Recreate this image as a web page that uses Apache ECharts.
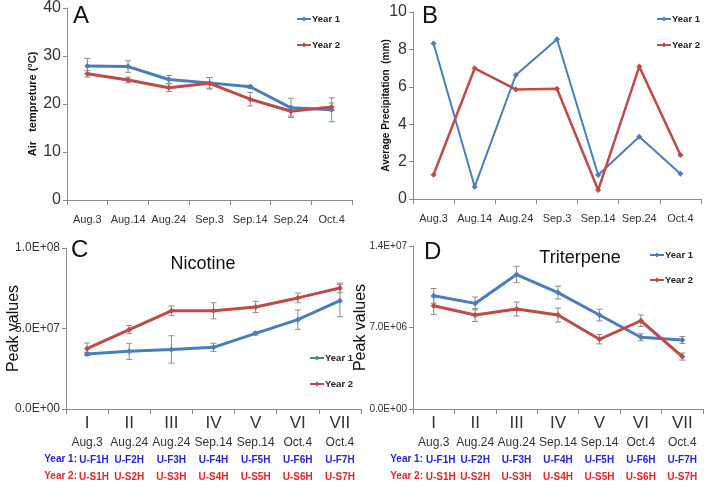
<!DOCTYPE html>
<html>
<head>
<meta charset="utf-8">
<script src="https://cdn.jsdelivr.net/npm/echarts@6/dist/echarts.min.js"></script>
<style>
  html, body { margin: 0; padding: 0; background: #fff; }
  #main { width: 708px; height: 482px; }
</style>
</head>
<body>
<div id="main"></div>
<script>
// ---- data ----
var dates = ['Aug.3', 'Aug.14', 'Aug.24', 'Sep.3', 'Sep.14', 'Sep.24', 'Oct.4'];
var stages = ['I', 'II', 'III', 'IV', 'V', 'VI', 'VII'];
var stageDates = ['Aug.3', 'Aug.24', 'Aug.24', 'Sep.14', 'Sep.14', 'Oct.4', 'Oct.4'];
var codesY1 = ['U-F1H', 'U-F2H', 'U-F3H', 'U-F4H', 'U-F5H', 'U-F6H', 'U-F7H'];
var codesY2 = ['U-S1H', 'U-S2H', 'U-S3H', 'U-S4H', 'U-S5H', 'U-S6H', 'U-S7H'];

var tempY1 = [27.9, 27.8, 25.1, 24.4, 23.6, 19.2, 18.8];
var tempY2 = [26.3, 25.0, 23.4, 24.3, 21.0, 18.5, 19.4];
var tempErrY1 = [1.6, 1.2, 0.85, 1.1, 0.3, 2.0, 2.5];
var tempErrY2 = [0.7, 0.6, 0.8, 1.2, 1.4, 1.0, 0.8];

var precY1 = [8.32, 0.66, 6.63, 8.54, 1.28, 3.33, 1.35];
var precY2 = [1.3, 6.99, 5.86, 5.9, 0.48, 7.08, 2.35];

var nicY1 = [3.42e7, 3.58e7, 3.7e7, 3.83e7, 4.7e7, 5.55e7, 6.73e7];
var nicY2 = [3.75e7, 4.93e7, 6.1e7, 6.1e7, 6.34e7, 6.9e7, 7.52e7];
var nicErrY1 = [0.1e7, 0.5e7, 0.85e7, 0.25e7, 0.1e7, 0.6e7, 1.0e7];
var nicErrY2 = [0.35e7, 0.25e7, 0.3e7, 0.5e7, 0.35e7, 0.3e7, 0.3e7];

var triY1 = [9.72e6, 9.07e6, 11.55e6, 10.0e6, 8.07e6, 6.16e6, 5.93e6];
var triY2 = [8.87e6, 8.07e6, 8.58e6, 8.07e6, 5.99e6, 7.58e6, 4.5e6];
var triErrY1 = [0.63e6, 0.55e6, 0.7e6, 0.55e6, 0.5e6, 0.3e6, 0.3e6];
var triErrY2 = [0.75e6, 0.55e6, 0.6e6, 0.6e6, 0.4e6, 0.5e6, 0.3e6];

var blue = '#4a7ebb', red = '#be4b48';
var font = "'Liberation Sans Narrow','Liberation Sans',sans-serif";
var axisGray = '#8a8a8a';

function sci(v) {
	if (v === 0) return '0.0E+00';
	var s = v.toExponential(1).split('e');
	var e = parseInt(s[1], 10);
	return s[0] + 'E' + (e < 0 ? '-' : '+') + (Math.abs(e) < 10 ? '0' : '') + Math.abs(e);
}

function errData(vals, errs) {
	return vals.map(function (v, i) { return [i, v - errs[i], v + errs[i]]; });
}

function errRender(params, api) {
	var i = api.value(0);
	var lo = api.coord([i, api.value(1)]);
	var hi = api.coord([i, api.value(2)]);
	var w = 3;
	var st = { stroke: '#8c8c8c', lineWidth: 1 };
	return {
		type: 'group', children: [
			{ type: 'line', shape: { x1: lo[0], y1: lo[1], x2: hi[0], y2: hi[1] }, style: st },
			{ type: 'line', shape: { x1: hi[0] - w, y1: hi[1], x2: hi[0] + w, y2: hi[1] }, style: st },
			{ type: 'line', shape: { x1: lo[0] - w, y1: lo[1], x2: lo[0] + w, y2: lo[1] }, style: st }
		]
	};
}

function xAxisSimple(idx, data) {
	return {
		type: 'category', gridIndex: idx, data: data, boundaryGap: true,
		axisLine: { lineStyle: { color: axisGray, width: 1 } },
		axisTick: { show: true, length: 5, lineStyle: { color: axisGray } },
		axisLabel: { color: '#333', fontSize: 11, fontFamily: font, margin: 14, interval: 0 }
	};
}

function xAxisStage(idx) {
	return {
		type: 'category', gridIndex: idx, data: stages, boundaryGap: true,
		axisLine: { lineStyle: { color: axisGray, width: 1 } },
		axisTick: { show: true, length: 5, lineStyle: { color: axisGray } },
		axisLabel: {
			interval: 0, margin: 4,
			formatter: function (v, i) {
				var f = i === 0 ? 'f0' : 'f';
				var s = i === 0 ? 's0' : 's';
				return '{r|' + v + '}\n{d|' + stageDates[i] + '}\n{' + f + '|' + codesY1[i] + '}\n{' + s + '|' + codesY2[i] + '}';
			},
			rich: {
				r: { fontSize: 17, color: '#333', fontFamily: font, lineHeight: 20 },
				d: { fontSize: 12, color: '#333', fontFamily: font, lineHeight: 19 },
				f: { fontSize: 10, color: '#2424d8', fontWeight: 'bold', fontFamily: font, lineHeight: 16 },
				s: { fontSize: 10, color: '#e0262a', fontWeight: 'bold', fontFamily: font, lineHeight: 18 },
				f0: { fontSize: 10, color: '#2424d8', fontWeight: 'bold', fontFamily: font, lineHeight: 16, padding: [0, 0, 0, 14] },
				s0: { fontSize: 10, color: '#e0262a', fontWeight: 'bold', fontFamily: font, lineHeight: 18, padding: [0, 0, 0, 14] }
			}
		}
	};
}

function yAxisCfg(idx, max, interval, fmt, fontSize, name, nameSize, nameBold, nameGap) {
	return {
		type: 'value', gridIndex: idx, min: 0, max: max, interval: interval,
		name: name, nameLocation: 'middle', nameGap: nameGap, nameMoveOverlap: false,
		nameTextStyle: { fontSize: nameSize, fontWeight: nameBold ? 'bold' : 'normal', color: '#111', fontFamily: font },
		axisLine: { show: true, lineStyle: { color: axisGray, width: 1 } },
		axisTick: { show: true, length: 4, lineStyle: { color: axisGray } },
		splitLine: { show: false },
		axisLabel: { color: '#333', fontSize: fontSize, fontFamily: font, formatter: fmt, margin: 6 }
	};
}

function lineSeries(name, idx, data, color, width) {
	return {
		name: name, type: 'line', xAxisIndex: idx, yAxisIndex: idx, data: data,
		symbol: 'diamond', symbolSize: 6, z: 3,
		lineStyle: { color: color, width: width },
		itemStyle: { color: color }
	};
}

function errSeries(idx, vals, errs) {
	return {
		type: 'custom', xAxisIndex: idx, yAxisIndex: idx, renderItem: errRender,
		data: errData(vals, errs), z: 2, silent: true
	};
}

function legendCfg(left, top, gap) {
	return {
		left: left, top: top, orient: 'vertical', itemGap: gap, itemWidth: 14, itemHeight: 6,
		data: ['Year 1', 'Year 2'], selectedMode: false,
		textStyle: { fontSize: 9.5, fontWeight: 'bold', color: '#222', fontFamily: font, padding: [0, 0, 0, -4] }
	};
}

var chart = echarts.init(document.getElementById('main'));
var option = {
	animation: false,
	grid: [
		{ left: 67, top: 8, width: 285, height: 192 },
		{ left: 413, top: 12, width: 288, height: 187 },
		{ left: 66, top: 248, width: 295, height: 161 },
		{ left: 413, top: 246, width: 290, height: 163 }
	],
	xAxis: [xAxisSimple(0, dates), xAxisSimple(1, dates), xAxisStage(2), xAxisStage(3)],
	yAxis: [
		yAxisCfg(0, 40, 10, null, 16, 'Air   tempreture (°C)', 11, true, 29),
		yAxisCfg(1, 10, 2, null, 16, 'Average Precipitation  (mm)', 10, true, 22),
		yAxisCfg(2, 1e8, 5e7, sci, 12, 'Peak values', 16, false, 44),
		yAxisCfg(3, 1.4e7, 7e6, sci, 10, 'Peak values', 16, false, 44)
	],
	legend: [legendCfg(291, 9, 16), legendCfg(651, 9, 16), legendCfg(304, 348, 16), legendCfg(644, 245, 15)],
	graphic: [
		{ type: 'text', left: 73, top: 4, style: { text: 'A', font: '24px "Liberation Sans"', fill: '#111' } },
		{ type: 'text', left: 422, top: 4, style: { text: 'B', font: '24px "Liberation Sans"', fill: '#111' } },
		{ type: 'text', left: 71, top: 238, style: { text: 'C', font: '24px "Liberation Sans"', fill: '#111' } },
		{ type: 'text', left: 424, top: 240, style: { text: 'D', font: '24px "Liberation Sans"', fill: '#111' } },
		{ type: 'text', x: 203, y: 264, style: { text: 'Nicotine', font: '18px "Liberation Sans"', fill: '#111', align: 'center', verticalAlign: 'middle' } },
		{ type: 'text', x: 580, y: 258, style: { text: 'Triterpene', font: '18px "Liberation Sans"', fill: '#111', align: 'center', verticalAlign: 'middle' } },
		{ type: 'text', x: 77, y: 459, style: { text: 'Year 1:', font: 'bold 10px "Liberation Sans"', fill: '#2424d8', align: 'right', verticalAlign: 'middle' } },
		{ type: 'text', x: 77, y: 476, style: { text: 'Year 2:', font: 'bold 10px "Liberation Sans"', fill: '#e0262a', align: 'right', verticalAlign: 'middle' } },
		{ type: 'text', x: 423, y: 459, style: { text: 'Year 1:', font: 'bold 10px "Liberation Sans"', fill: '#2424d8', align: 'right', verticalAlign: 'middle' } },
		{ type: 'text', x: 423, y: 476, style: { text: 'Year 2:', font: 'bold 10px "Liberation Sans"', fill: '#e0262a', align: 'right', verticalAlign: 'middle' } }
	],
	series: [
		errSeries(0, tempY1, tempErrY1),
		errSeries(0, tempY2, tempErrY2),
		lineSeries('Year 1', 0, tempY1, blue, 3),
		lineSeries('Year 2', 0, tempY2, red, 3),
		lineSeries('Year 1', 1, precY1, blue, 2),
		lineSeries('Year 2', 1, precY2, red, 2.5),
		errSeries(2, nicY1, nicErrY1),
		errSeries(2, nicY2, nicErrY2),
		lineSeries('Year 1', 2, nicY1, blue, 3),
		lineSeries('Year 2', 2, nicY2, red, 3),
		errSeries(3, triY1, triErrY1),
		errSeries(3, triY2, triErrY2),
		lineSeries('Year 1', 3, triY1, blue, 3),
		lineSeries('Year 2', 3, triY2, red, 3)
	]
};
chart.setOption(option);
</script>
</body>
</html>
